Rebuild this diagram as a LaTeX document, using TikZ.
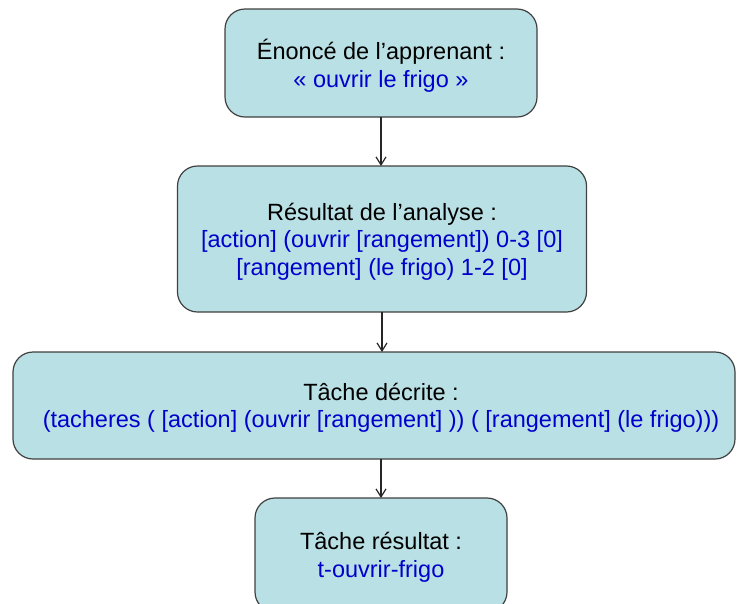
\documentclass[tikz,border=0pt]{standalone}
\usepackage{fontspec}
\setmainfont{Liberation Sans}
\usetikzlibrary{arrows.meta}
\definecolor{boxfill}{RGB}{185,224,228}
\definecolor{boxline}{RGB}{64,64,64}
\definecolor{textblue}{RGB}{0,0,204}

\begin{document}
\begin{tikzpicture}[x=1pt, y=-1pt, >={Straight Barb[length=8pt, width=10pt]},
  stage/.style={draw=boxline, line width=1.2pt, fill=boxfill, rounded corners=20pt,
    inner sep=0pt, outer sep=0pt},
  stagetext/.style={align=center, inner sep=0pt, yshift=-2.5pt,
    font=\fontsize{23.5}{27.5}\selectfont},
  link/.style={->, line width=1.2pt, draw=black!85}]
  \useasboundingbox (0,0) rectangle (738,603);
  \clip (0,0) rectangle (738,603);
  % the four stages, top to bottom
  \node[stage, minimum width=312pt, minimum height=108pt] (enonce) at (381,63) {};
  \node[stagetext] (enoncetext) at (enonce.center)
    {Énoncé de l’apprenant :\\ \textcolor{textblue}{« ouvrir le frigo »}};
  \node[stage, minimum width=409pt, minimum height=146pt] (analyse) at (382,239) {};
  \node[stagetext] (analysetext) at (analyse.center)
    {Résultat de l’analyse :\\
     \textcolor{textblue}{[action] (ouvrir [rangement]) 0-3 [0]}\\
     \textcolor{textblue}{[rangement] (le frigo) 1-2 [0]}};
  \node[stage, minimum width=722pt, minimum height=107pt] (decrite) at (374,405.5) {};
  \node[stagetext, xshift=7pt] (decritetext) at (decrite.center)
    {Tâche décrite :\\
     \textcolor{textblue}{(tacheres ( [action] (ouvrir [rangement] )) ( [rangement] (le frigo)))}};
  \node[stage, minimum width=252pt, minimum height=114pt] (resultat) at (381,555) {};
  \node[stagetext] (resultattext) at (resultat.center)
    {Tâche résultat :\\ \textcolor{textblue}{t-ouvrir-frigo}};
  % arrows between the stages
  \draw[link] (enonce.south) -- (enonce.south |- analyse.north);
  \draw[link] (analyse.south) -- (analyse.south |- decrite.north);
  \draw[link] (resultat.north |- decrite.south) -- (resultat.north);
\end{tikzpicture}
\end{document}
